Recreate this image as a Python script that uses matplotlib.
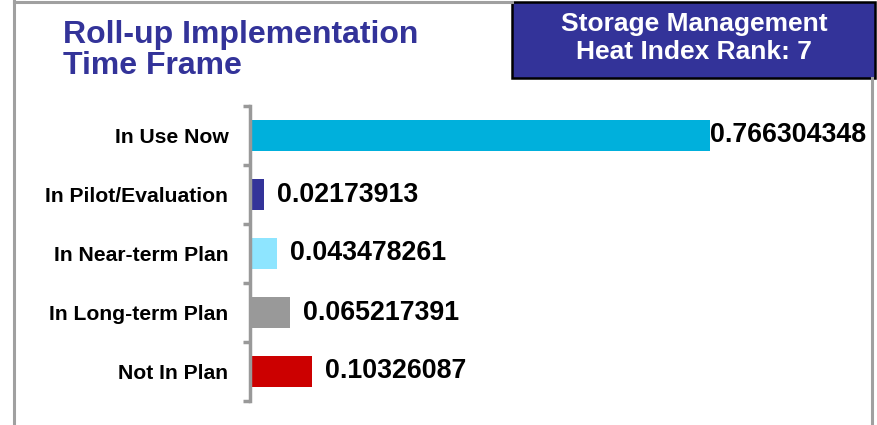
import matplotlib
matplotlib.use("Agg")
import matplotlib.pyplot as plt
from matplotlib.patches import Rectangle
from matplotlib.lines import Line2D
import numpy as np

plt.rcParams['font.family'] = ['Liberation Sans', 'DejaVu Sans']

categories = ["In Use Now", "In Pilot/Evaluation", "In Near-term Plan",
              "In Long-term Plan", "Not In Plan"]
values = [0.766304348, 0.02173913, 0.043478261, 0.065217391, 0.10326087]
value_labels = ["0.766304348", "0.02173913", "0.043478261", "0.065217391", "0.10326087"]
colors = ["#00B0DC", "#333399", "#8EE5FF", "#999999", "#CC0000"]
title_lines = ["Roll-up Implementation", "Time Frame"]
box_lines = ["Storage Management", "Heat Index Rank: 7"]

W, H = 878, 425
fig = plt.figure(figsize=(W / 100, H / 100), dpi=100)
fig.patch.set_facecolor("white")

def fx(px):
    return px / W

def fy(py):
    return 1 - py / H

# frame lines
gray = "#A0A0A0"
fig.add_artist(Line2D([fx(14), fx(14)], [0, 1], color=gray, lw=2.2, transform=fig.transFigure))
fig.add_artist(Line2D([fx(14), fx(512)], [fy(2), fy(2)], color=gray, lw=2.2, transform=fig.transFigure))
fig.add_artist(Line2D([fx(872.5), fx(872.5)], [0, fy(78)], color=gray, lw=2.2, transform=fig.transFigure))

# title
fig.text(fx(63), fy(43), title_lines[0], color="#333399", fontsize=23, fontweight="bold",
         ha="left", va="baseline")
fig.text(fx(63), fy(74), title_lines[1], color="#333399", fontsize=23, fontweight="bold",
         ha="left", va="baseline")

# box
fig.add_artist(Rectangle((fx(512), fy(78)), fx(875) - fx(512), fy(2) - fy(78),
                         transform=fig.transFigure, facecolor="#333399",
                         edgecolor="black", lw=1.8))
fig.text(fx(694), fy(24), box_lines[0], color="white", fontsize=19, fontweight="bold",
         ha="center", va="center")
fig.text(fx(694), fy(52), box_lines[1], color="white", fontsize=19, fontweight="bold",
         ha="center", va="center")

# axes
ax = fig.add_axes([fx(250.5), fy(401), fx(850.5) - fx(250.5), fy(106) - fy(401)])
y = np.arange(len(categories))
ax.barh(y, values, height=0.525, color=colors)
ax.set_ylim(len(categories) - 0.5, -0.5)
ax.set_xlim(0, 1.0)
for s in ["top", "right", "bottom"]:
    ax.spines[s].set_visible(False)
ax.spines["left"].set_color("#999999")
ax.spines["left"].set_linewidth(2.5)
ax.set_xticks([])
ax.set_yticks(y)
ax.set_yticklabels(categories, fontsize=15.2, fontweight="bold")
ax.tick_params(axis="y", which="major", length=0, pad=16)
ax.set_yticks(np.arange(-0.5, len(categories)), minor=True)
ax.tick_params(axis="y", which="minor", length=5, width=2.5, color="#999999", direction="out")
ax.patch.set_alpha(0)

pads = [0, 13, 13, 13, 13]
for yi, v, lab, p in zip(y, values, value_labels, pads):
    ax.annotate(lab, (v, yi), xytext=(p * 0.72, 0), textcoords="offset points",
                ha="left", va="center", fontsize=19.3, fontweight="bold", color="black")

fig.savefig("out.png", dpi=100)
